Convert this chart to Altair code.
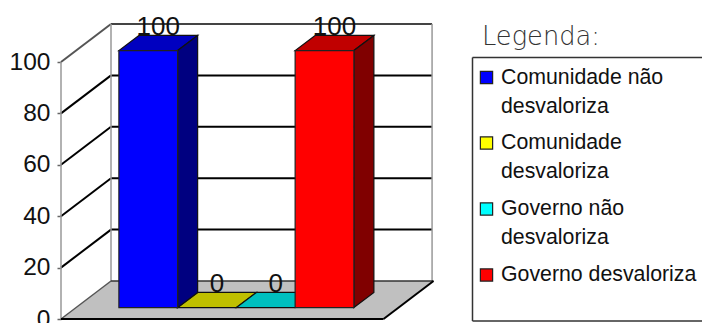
import altair as alt
import pandas as pd

# Chart values
series = ["Comunidade não desvaloriza", "Comunidade desvaloriza", "Governo não desvaloriza", "Governo desvaloriza"]
values = [100, 0, 0, 100]
front_colors = ["#0000ff", "#ffff00", "#00ffff", "#ff0000"]
top_colors = ["#0000c0", "#c0c000", "#00c0c0", "#c00000"]
side_colors = ["#000080", "#808000", "#008080", "#800000"]
y_ticks = [0, 20, 40, 60, 80, 100]
legend_lines = [
    (0, "Comunidade não", 0),
    (None, "desvaloriza", 29),
    (1, "Comunidade", 65.5),
    (None, "desvaloriza", 94.5),
    (2, "Governo não", 131.5),
    (None, "desvaloriza", 160.5),
    (3, "Governo desvaloriza", 197.5),
]

# Plot frame and oblique projection of the 3D box
LEFT, TOP, PLOT_W, PLOT_H = 61, 23, 641, 296
PX_PER_BAR, PX_PER_VALUE = 58.75, 2.57
DEPTH_X, DEPTH_Y = 50 / PX_PER_BAR, 38 / PX_PER_VALUE
FLOOR_W, WALL_W = 5.49, 5.465
BAR_START, BAR_D0, BAR_D1 = 0.73, 0.3, 0.7


def ux(u, d=0.0):
    return u + d * DEPTH_X


def vy(v, d=0.0):
    return v + d * DEPTH_Y


def from_px(px, py):
    return (px - LEFT) / PX_PER_BAR, (TOP + PLOT_H - py) / PX_PER_VALUE


x_scale = alt.Scale(domain=[0, PLOT_W / PX_PER_BAR], range=[0, PLOT_W], nice=False, zero=False)
y_scale = alt.Scale(domain=[0, PLOT_H / PX_PER_VALUE], range=[PLOT_H, 0], nice=False, zero=False)


def X(field="x"):
    return alt.X(f"{field}:Q", scale=x_scale, axis=None)


def Y(field="y"):
    return alt.Y(f"{field}:Q", scale=y_scale, axis=None)


# Wall, floor edge and gridline segments
segments = []


def seg(x0, y0, x1, y1, color, width):
    segments.append(dict(x=x0, y=y0, xe=x1, ye=y1, c=color, w=width))


for t in y_ticks:
    if t in (0, 100):
        continue
    seg(ux(0, 1), vy(t, 1), ux(WALL_W, 1), vy(t, 1), "#000000", 2)
    seg(ux(0), vy(t), ux(0, 1), vy(t, 1), "#000000", 2)
seg(ux(0, 1), vy(100, 1), ux(WALL_W, 1), vy(100, 1), "#444444", 2)
seg(ux(0), vy(100), ux(0, 1), vy(100, 1), "#555555", 2)
seg(ux(0, 1), vy(0, 1), ux(0, 1), vy(100, 1), "#999999", 1.5)
seg(ux(WALL_W, 1), vy(0, 1), ux(WALL_W, 1), vy(100, 1), "#999999", 1.5)
seg(ux(0), vy(0), ux(0), vy(100), "#999999", 1.5)
seg(ux(0, 1), vy(0, 1), ux(FLOOR_W, 1), vy(0, 1), "#333333", 1.5)
seg(ux(0), vy(0), ux(0, 1), vy(0, 1), "#555555", 1.5)

edges = []
edges.append(dict(x=ux(0), y=vy(0), xe=ux(FLOOR_W), ye=vy(0), c="#000000", w=2))
edges.append(dict(x=ux(FLOOR_W), y=vy(0), xe=ux(FLOOR_W, 1), ye=vy(0, 1), c="#000000", w=2))

# Legend frame, in the same scales as the plot
bx0, by0 = from_px(472.5, 57.5)
bx1, by1 = from_px(702, 321)
edges.append(dict(x=bx0, y=by0, xe=bx1, ye=by0, c="#333333", w=1.5))
edges.append(dict(x=bx0, y=by0, xe=bx0, ye=by1, c="#333333", w=1.5))
edges.append(dict(x=bx0, y=by1, xe=bx1, ye=by1, c="#333333", w=1.5))

# Bar faces
fronts, tops, sides, labels = [], [], [], []
for i, (name, v) in enumerate(zip(series, values)):
    u0 = BAR_START + i
    u1 = u0 + 1
    if v > 0:
        fronts.append(dict(x=ux(u0, BAR_D0), xe=ux(u1, BAR_D0), y=vy(0, BAR_D0), ye=vy(v, BAR_D0), c=front_colors[i]))
        for d in (BAR_D0, BAR_D1):
            sides.append(dict(s=name, x=ux(u1, d), y=vy(v, d), ye=vy(0, d), c=side_colors[i]))
    for d in (BAR_D0, BAR_D1):
        tops.append(dict(s=name, y=vy(v, d), x=ux(u0, d), xe=ux(u1, d), c=top_colors[i]))
    labels.append(dict(x=ux(u0 + 0.5, (BAR_D0 + BAR_D1) / 2), y=vy(v, BAR_D1), t=str(v)))

floor = [
    dict(y=vy(0), x=ux(0), xe=ux(FLOOR_W)),
    dict(y=vy(0, 1), x=ux(0, 1), xe=ux(FLOOR_W, 1)),
]

# Legend rows
legend_text, legend_marks = [], []
for idx, text, offset in legend_lines:
    x_t, y_t = from_px(501, 77.5 + offset)
    legend_text.append(dict(x=x_t, y=y_t, t=text))
    if idx is not None:
        x_s, y_s = from_px(486.5, 77.5 + offset)
        legend_marks.append(dict(x=x_s, y=y_s, c=front_colors[idx]))
title_x, title_y = from_px(482, 37)

base_axis = alt.Chart(pd.DataFrame({"y": y_ticks})).mark_point(opacity=0).encode(
    y=alt.Y(
        "y:Q",
        scale=y_scale,
        axis=alt.Axis(
            values=y_ticks, title=None, domain=False, grid=False, tickSize=4, tickColor="#666666",
            tickWidth=1.5, labelFontSize=24.5, labelFont="Liberation Sans", labelColor="#111111",
            labelPadding=7,
        ),
    ),
    x=alt.value(0),
)

floor_layer = alt.Chart(pd.DataFrame(floor)).mark_area(orient="horizontal", color="#c0c0c0").encode(
    y=Y(), x=X(), x2="xe:Q"
)

seg_layer = alt.Chart(pd.DataFrame(segments)).mark_rule().encode(
    x=X(), y=Y(), x2="xe:Q", y2="ye:Q",
    color=alt.Color("c:N", scale=None), strokeWidth=alt.StrokeWidth("w:Q", scale=None),
)

edge_layer = alt.Chart(pd.DataFrame(edges)).mark_rule().encode(
    x=X(), y=Y(), x2="xe:Q", y2="ye:Q",
    color=alt.Color("c:N", scale=None), strokeWidth=alt.StrokeWidth("w:Q", scale=None),
)

top_layer = alt.Chart(pd.DataFrame(tops)).mark_area(orient="horizontal", stroke="#111111", strokeWidth=1.2).encode(
    y=Y(), x=X(), x2="xe:Q", fill=alt.Fill("c:N", scale=None), detail="s:N",
)

side_layer = alt.Chart(pd.DataFrame(sides)).mark_area(stroke="#111111", strokeWidth=1.2).encode(
    x=X(), y=Y(), y2="ye:Q", fill=alt.Fill("c:N", scale=None), detail="s:N",
)

front_layer = alt.Chart(pd.DataFrame(fronts)).mark_rect(stroke="#222222", strokeWidth=1.2).encode(
    x=X(), x2="xe:Q", y=Y(), y2="ye:Q", fill=alt.Fill("c:N", scale=None),
)

label_layer = alt.Chart(pd.DataFrame(labels)).mark_text(
    font="Liberation Sans", fontSize=26, baseline="alphabetic", color="#111111"
).encode(x=X(), y=Y(), text="t:N")

swatch_layer = alt.Chart(pd.DataFrame(legend_marks)).mark_square(
    size=150, opacity=1, stroke="#222222", strokeWidth=1.2
).encode(x=X(), y=Y(), fill=alt.Fill("c:N", scale=None))

legend_text_layer = alt.Chart(pd.DataFrame(legend_text)).mark_text(
    font="Liberation Sans", fontSize=21.3, align="left", baseline="middle", color="#111111"
).encode(x=X(), y=Y(), text="t:N")

title_layer = alt.Chart(pd.DataFrame([dict(x=title_x, y=title_y, t="Legenda:")])).mark_text(
    font="DejaVu Sans", fontSize=25.7, align="left", baseline="middle", color="#333333", fontWeight=200
).encode(x=X(), y=Y(), text="t:N")

chart = alt.layer(
    floor_layer, seg_layer, edge_layer, top_layer, side_layer, front_layer,
    label_layer, swatch_layer, legend_text_layer, title_layer, base_axis,
).resolve_axis(y="independent").properties(
    width=PLOT_W,
    height=PLOT_H,
    padding={"left": LEFT, "top": TOP, "right": 0, "bottom": 4},
    autosize=alt.AutoSizeParams(type="none"),
    background="white",
).configure_view(stroke=None)

chart.save("out.html", embed_options={"renderer": "svg", "actions": False})
